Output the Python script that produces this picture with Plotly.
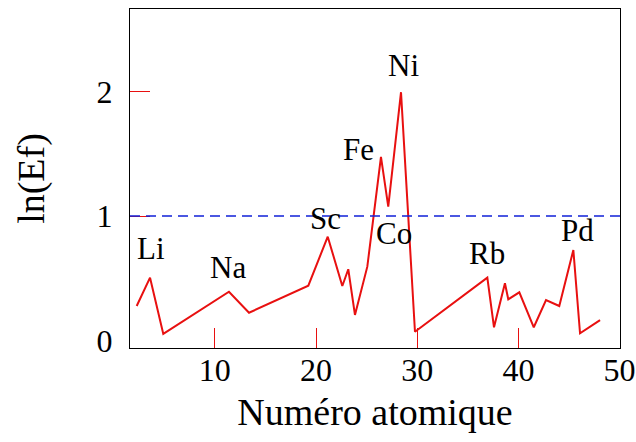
import plotly.graph_objects as go

# Data
z_values = [2.28, 3.60, 4.91, 11.40, 13.38, 19.24, 21.16, 22.60, 23.19, 23.85,
            25.07, 26.42, 27.14, 28.40, 29.78, 36.93, 37.59, 38.67, 39.00, 40.09,
            41.52, 42.73, 44.04, 45.43, 46.09, 48.07]
ln_ef = [0.276, 0.504, 0.051, 0.391, 0.222, 0.440, 0.834, 0.437, 0.572, 0.204,
         0.593, 1.476, 1.076, 1.997, 0.069, 0.504, 0.105, 0.459, 0.330, 0.386,
         0.105, 0.324, 0.276, 0.727, 0.056, 0.163]

element_labels = ["Li", "Na", "Sc", "Fe", "Co", "Ni", "Rb", "Pd"]
label_x = [3.70, 11.35, 20.89, 24.20, 27.71, 28.65, 36.90, 45.84]
label_y = [0.743, 0.590, 0.977, 1.533, 0.860, 2.209, 0.699, 0.880]

x_ticks = [10, 20, 30, 40, 50]
y_ticks = [0, 1, 2]
y_marked_ticks = [1, 2]
reference_level = 1

FONT = "Liberation Serif"

fig = go.Figure()
fig.add_trace(go.Scatter(x=z_values, y=ln_ef, mode="lines",
                         line=dict(color="#e81010", width=2),
                         showlegend=False, hoverinfo="skip"))
fig.add_trace(go.Scatter(x=[], y=[], yaxis="y2", showlegend=False))

fig.add_hline(y=reference_level, line=dict(color="#1020d8", width=1.5, dash="10px,6px"))

for name, lx, ly in zip(element_labels, label_x, label_y):
    fig.add_annotation(x=lx, y=ly, text=name, showarrow=False,
                       font=dict(family=FONT, size=31, color="black"),
                       xanchor="center", yanchor="middle")

fig.update_layout(
    width=636, height=442,
    margin=dict(l=130, r=16, t=9, b=94, autoexpand=False),
    paper_bgcolor="white", plot_bgcolor="white",
    font=dict(family=FONT, color="black"),
    xaxis=dict(range=[1.62, 50.04], tickvals=x_ticks, ticks="inside", ticklen=20,
               tickcolor="#e81010", tickwidth=1, showgrid=False, zeroline=False,
               showline=True, linecolor="black", linewidth=1.3, mirror=True,
               automargin=False,
               tickfont=dict(family=FONT, size=32, color="black"),
               ticklabelstandoff=-7,
               title=dict(text="Numéro atomique", standoff=11,
                          font=dict(family=FONT, size=38, color="black"))),
    yaxis=dict(range=[-0.062, 2.667], tickvals=y_ticks, ticks="",
               showgrid=False, zeroline=False, automargin=False,
               showline=True, linecolor="black", linewidth=1.3, mirror=True,
               tickfont=dict(family=FONT, size=32, color="black"),
               ticklabelstandoff=10,
               title=dict(text="ln(Ef)", standoff=40,
                          font=dict(family=FONT, size=38, color="black"))),
    yaxis2=dict(range=[-0.062, 2.667], overlaying="y", side="left",
                tickvals=y_marked_ticks, ticks="inside", ticklen=20,
                tickcolor="#e81010", tickwidth=1, showticklabels=False,
                showgrid=False, zeroline=False, showline=False, automargin=False),
)

fig.write_html("out.html")
